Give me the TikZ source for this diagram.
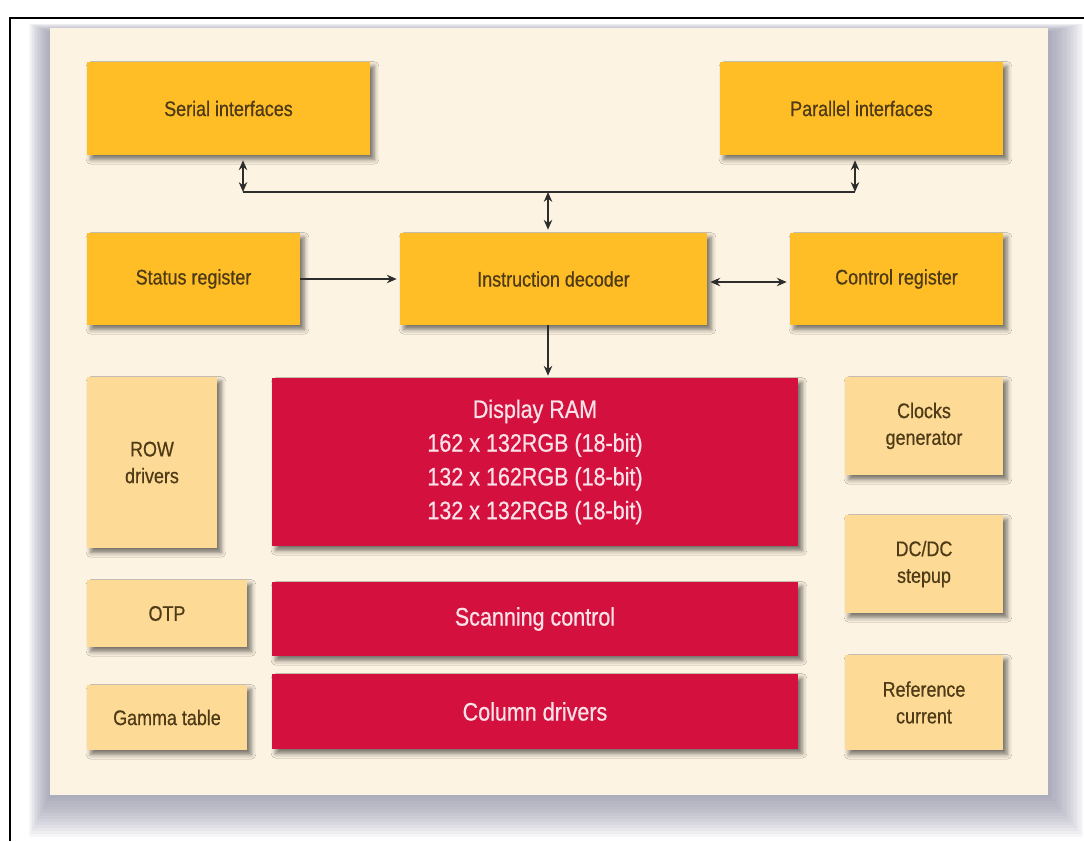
\documentclass[tikz,border=0pt]{standalone}
\usepackage{fontspec}
\setmainfont{Liberation Sans}[FakeStretch=0.85, FakeBold=0.6]
\usepackage{xcolor}
\usepackage{tikz}
\usetikzlibrary{arrows.meta,positioning,calc,shadows.blur}

\definecolor{panelcream}{RGB}{253,243,226}
\definecolor{shadowgray}{RGB}{130,132,155}
\definecolor{amber}{RGB}{255,190,38}
\definecolor{lightamber}{RGB}{253,219,150}
\definecolor{crimson}{RGB}{212,16,62}
\definecolor{darkbrown}{RGB}{78,58,22}
\definecolor{linkgray}{RGB}{45,45,45}

\begin{document}
\begin{tikzpicture}[x=0.025cm, y=-0.025cm,
    blk/.style={rectangle, inner sep=2pt, align=center,
      font=\fontsize{15}{19}\selectfont, text=darkbrown,
      blur shadow={shadow xshift=1mm, shadow yshift=-1.1mm,
        shadow blur radius=1.2mm, shadow opacity=55}},
    mainblk/.style={blk, fill=amber},
    sideblk/.style={blk, fill=lightamber},
    ramblk/.style={blk, fill=crimson, text=white!88!crimson,
      font=\fontsize{18}{24}\selectfont, minimum width=13.15cm},
    link/.style={draw=linkgray, line width=1.1pt},
    >={Stealth[length=7pt,width=6pt]}]

    \useasboundingbox (0,0) rectangle (1084,841);
    \fill[white] (0,0) rectangle (1084,841);

    % Frame
    \draw[line width=1.5pt] (10,841) -- (10,18) -- (1084,18);

    % Panel with soft shadow
    \foreach \i in {1,...,14} {
      \fill[shadowgray, opacity=0.065] (50-1.5*\i,32-0.6*\i) rectangle (1048+2.5*\i,795+3*\i);
    }
    \fill[panelcream] (50,28) rectangle (1048,795);

    % Interface row
    \node[mainblk, minimum width=7.075cm, minimum height=2.325cm] (serial) at (228.5,108.5) {Serial interfaces};
    \node[mainblk, minimum width=7.075cm, minimum height=2.325cm] (parallel) at (861.5,108.5) {Parallel interfaces};

    % Register row
    \node[mainblk, minimum width=5.325cm, minimum height=2.3cm] (status) at (193.5,279) {Status register};
    \node[mainblk, minimum width=7.675cm, minimum height=2.3cm] (instr) at (553.5,279) {Instruction decoder};
    \node[mainblk, minimum width=5.325cm, minimum height=2.3cm] (control) at (896.5,279) {Control register};

    % Display core
    \node[ramblk, minimum height=4.2cm] (ram) at (535,462) {Display RAM\\162 x 132RGB (18-bit)\\132 x 162RGB (18-bit)\\132 x 132RGB (18-bit)};
    \node[ramblk, minimum height=1.85cm] (scan) at (535,619) {Scanning control};
    \node[ramblk, minimum height=1.875cm] (coldrv) at (535,711.5) {Column drivers};

    % Left side blocks
    \node[sideblk, minimum width=3.25cm, minimum height=4.275cm] (rowdrv) at (152,462.5) {ROW\\drivers};
    \node[sideblk, minimum width=4cm, minimum height=1.675cm] (otp) at (167,613.5) {OTP};
    \node[sideblk, minimum width=4cm, minimum height=1.625cm] (gamma) at (167,717.5) {Gamma table};

    % Right side blocks
    \node[sideblk, minimum width=3.95cm, minimum height=2.45cm] (clocks) at (924,426) {Clocks\\generator};
    \node[sideblk, minimum width=3.95cm, minimum height=2.45cm] (dcdc) at (924,564) {DC/DC\\stepup};
    \node[sideblk, minimum width=3.95cm, minimum height=2.375cm] (refcur) at (924,702.5) {Reference\\current};

    % Bus
    \coordinate (busL) at (243,192);
    \coordinate (busM) at (548,192);
    \coordinate (busR) at (855,192);
    \draw[link] (busL) -- (busR);
    \draw[link, <->] ($(busL |- serial.south)+(0,5)$) -- (busL);
    \draw[link, <->] ($(busR |- parallel.south)+(0,5)$) -- (busR);
    \draw[link, <->] (busM) -- ($(busM |- instr.north)+(0,-3)$);

    % Register links
    \draw[link, ->] (status.east) -- ($(instr.west)+(-3,0)$);
    \draw[link, <->] ($(instr.east)+(3,3)$) -- ($(control.west)+(-3,3)$);
    \draw[link, ->] (busM |- instr.south) -- ($(busM |- ram.north)+(0,-2)$);
\end{tikzpicture}
\end{document}
